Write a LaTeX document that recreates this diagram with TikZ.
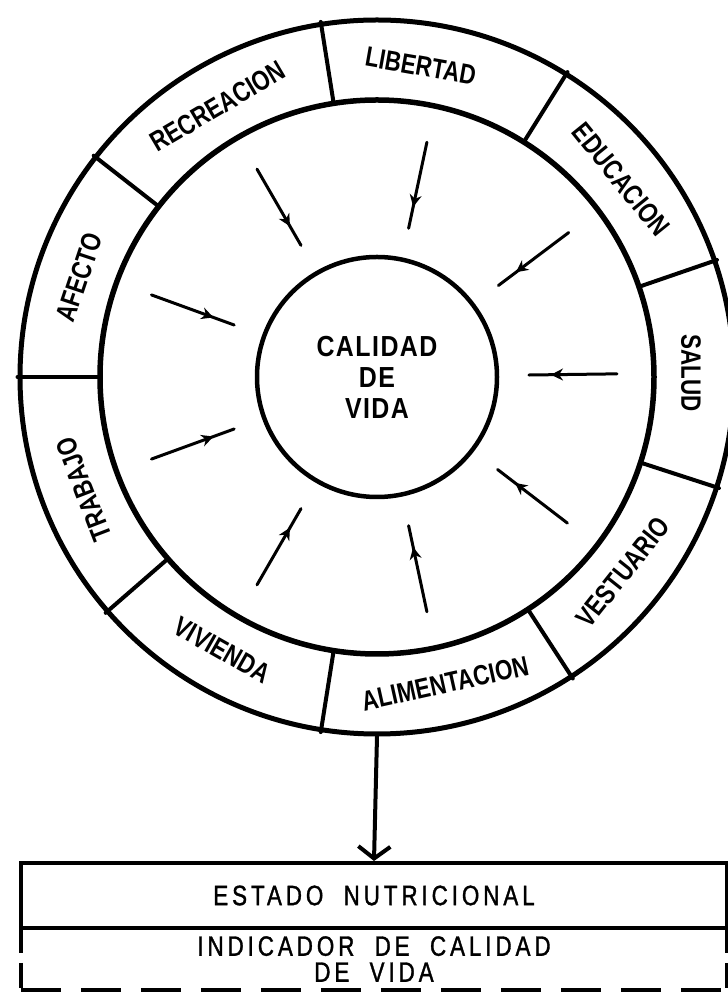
\documentclass[tikz,border=0pt]{standalone}
\usepackage{fontspec}
\setmainfont{Liberation Sans}
\newfontfamily\ringfont[FakeStretch=0.8]{Liberation Sans}
\newfontfamily\corefont[FakeStretch=0.86,LetterSpace=5]{Liberation Sans}
\newfontfamily\cellfont[FakeStretch=0.8,FakeBold=1.2,LetterSpace=14,WordSpace=2]{Liberation Sans}
\usetikzlibrary{arrows.meta,decorations.markings}

\begin{document}
\begin{tikzpicture}[x=1pt,y=1pt,line cap=round,
  ring/.style={draw,circle,inner sep=0pt,line width=#1},
  divl/.style={line width=4pt},
  tag/.style={font=\ringfont\bfseries\fontsize{28}{28}\selectfont,inner sep=0pt},
  flow/.style={line width=3pt,postaction={decorate},
    decoration={markings,mark=at position 0.75 with {\arrow{Stealth[length=12pt,width=12pt]}}}},
  feed/.style={-{Straight Barb[length=12pt,width=32pt]},line width=4pt},
  cell/.style={minimum width=706,align=center,inner sep=0pt,
    font=\cellfont\fontsize{28}{26}\selectfont},
  cutline/.style={line width=4pt,line cap=butt}]
\useasboundingbox (0,0) rectangle (728,994);
\coordinate (c) at (377,617);
% the three rings
\node[ring=5pt,minimum size=714] (outer) at (c) {};
\node[ring=5.5pt,minimum size=554] (mid) at (c) {};
\node[ring=4.5pt,minimum size=240,align=center,
  font=\corefont\bfseries\fontsize{29}{31}\selectfont] (core) at (c) {CALIDAD\\DE\\VIDA};
% segment borders
\foreach \a in {180,142,99,58.5,19.5,-18,-57,-99,-139}
  \draw[divl] (mid.\a) -- (outer.\a);
% segment names
\foreach \m/\r/\txt in {0.75/-90/SALUD,39/-51/EDUCACION,82/-10/LIBERTAD,
    120.5/30.5/RECREACION,161.5/71.5/AFECTO,201/111/TRABAJO,
    240.5/-29.5/VIVIENDA,282.5/12.5/ALIMENTACION,321.5/51.5/VESTUARIO}
  \node[tag,rotate=\r] (\txt) at ([shift={(\m:314)}]c) {\txt};
% inward arrows
\foreach \m [count=\i] in {0.75,37,78,120,160,200,240,282,322.5} {
  \coordinate (p\i) at ([shift={(\m:240)}]c);
  \coordinate (q\i) at ([shift={(\m:152)}]c);
  \draw[flow] (p\i) -- (q\i);
}
% result box
\node[cell,draw,line width=4pt,minimum height=65] (estado) at (374,98.5) {ESTADO NUTRICIONAL};
\node[cell,minimum height=62] (indicador) at (374,35) {INDICADOR DE CALIDAD\\DE VIDA};
\draw[feed] (outer.south) -- (estado.north);
\draw[cutline,dash pattern=on 25pt off 10pt] (indicador.north west) -- (indicador.south west);
\draw[cutline,dash pattern=on 25pt off 10pt] (indicador.north east) -- (indicador.south east);
\draw[cutline,dash pattern=on 40pt off 20pt] (indicador.south west) -- (indicador.south east);
\end{tikzpicture}
\end{document}
